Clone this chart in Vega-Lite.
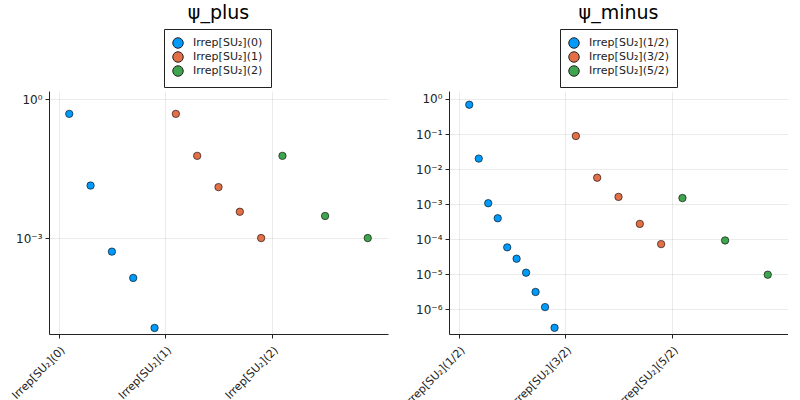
{
  "$schema": "https://vega.github.io/schema/vega-lite/v6.json",
  "padding": {"left": 9, "top": 3, "right": 0, "bottom": 0},
  "background": "white",
  "datasets": {
    "points": [
      {"panel": "plus", "sector": "Irrep[SU₂](0)", "x": 0.1, "y": 0.48},
      {"panel": "plus", "sector": "Irrep[SU₂](0)", "x": 0.3, "y": 0.0136},
      {"panel": "plus", "sector": "Irrep[SU₂](0)", "x": 0.5, "y": 0.00051},
      {"panel": "plus", "sector": "Irrep[SU₂](0)", "x": 0.7, "y": 0.000138},
      {"panel": "plus", "sector": "Irrep[SU₂](0)", "x": 0.9, "y": 0.0000115},
      {"panel": "plus", "sector": "Irrep[SU₂](1)", "x": 1.1, "y": 0.48},
      {"panel": "plus", "sector": "Irrep[SU₂](1)", "x": 1.3, "y": 0.0596},
      {"panel": "plus", "sector": "Irrep[SU₂](1)", "x": 1.5, "y": 0.0126},
      {"panel": "plus", "sector": "Irrep[SU₂](1)", "x": 1.7, "y": 0.0037},
      {"panel": "plus", "sector": "Irrep[SU₂](1)", "x": 1.9, "y": 0.001},
      {"panel": "plus", "sector": "Irrep[SU₂](2)", "x": 2.1, "y": 0.0596},
      {"panel": "plus", "sector": "Irrep[SU₂](2)", "x": 2.5, "y": 0.003},
      {"panel": "plus", "sector": "Irrep[SU₂](2)", "x": 2.9, "y": 0.001},
      {"panel": "minus", "sector": "Irrep[SU₂](1/2)", "x": 0.1, "y": 0.687},
      {"panel": "minus", "sector": "Irrep[SU₂](1/2)", "x": 0.189, "y": 0.02},
      {"panel": "minus", "sector": "Irrep[SU₂](1/2)", "x": 0.278, "y": 0.00107},
      {"panel": "minus", "sector": "Irrep[SU₂](1/2)", "x": 0.367, "y": 0.000398},
      {"panel": "minus", "sector": "Irrep[SU₂](1/2)", "x": 0.456, "y": 0.000059},
      {"panel": "minus", "sector": "Irrep[SU₂](1/2)", "x": 0.544, "y": 0.000028},
      {"panel": "minus", "sector": "Irrep[SU₂](1/2)", "x": 0.633, "y": 0.0000112},
      {"panel": "minus", "sector": "Irrep[SU₂](1/2)", "x": 0.722, "y": 0.00000316},
      {"panel": "minus", "sector": "Irrep[SU₂](1/2)", "x": 0.811, "y": 0.00000117},
      {"panel": "minus", "sector": "Irrep[SU₂](1/2)", "x": 0.9, "y": 0.0000003},
      {"panel": "minus", "sector": "Irrep[SU₂](3/2)", "x": 1.1, "y": 0.088},
      {"panel": "minus", "sector": "Irrep[SU₂](3/2)", "x": 1.3, "y": 0.0057},
      {"panel": "minus", "sector": "Irrep[SU₂](3/2)", "x": 1.5, "y": 0.00162},
      {"panel": "minus", "sector": "Irrep[SU₂](3/2)", "x": 1.7, "y": 0.000275},
      {"panel": "minus", "sector": "Irrep[SU₂](3/2)", "x": 1.9, "y": 0.000073},
      {"panel": "minus", "sector": "Irrep[SU₂](5/2)", "x": 2.1, "y": 0.0015},
      {"panel": "minus", "sector": "Irrep[SU₂](5/2)", "x": 2.5, "y": 0.000093},
      {"panel": "minus", "sector": "Irrep[SU₂](5/2)", "x": 2.9, "y": 0.0000098}
    ]
  },
  "hconcat": [
    {
      "title": {"text": "ψ_plus"},
      "width": 339,
      "height": 243,
      "data": {"name": "points"},
      "transform": [{"filter": "datum.panel == 'plus'"}],
      "mark": {"type": "point", "filled": true, "size": 55, "stroke": "black", "strokeWidth": 0.6, "opacity": 1},
      "encoding": {
        "x": {
          "field": "x", "type": "quantitative", "title": null,
          "scale": {"domain": [-0.09, 3.09], "nice": false, "zero": false},
          "axis": {"values": [0, 1, 2], "labelExpr": "['Irrep[SU₂](0)', 'Irrep[SU₂](1)', 'Irrep[SU₂](2)'][datum.value]"}
        },
        "y": {
          "field": "y", "type": "quantitative", "title": null,
          "scale": {"type": "log", "domain": [0.0000085, 1.496], "nice": false},
          "axis": {"values": [1, 0.001], "labelExpr": "'10' + (datum.value < 0.5 ? '⁻' : '') + ['⁰','¹','²','³','⁴','⁵','⁶','⁷'][abs(round(log(datum.value) / LN10))]"}
        },
        "color": {
          "field": "sector", "type": "nominal",
          "scale": {"domain": ["Irrep[SU₂](0)", "Irrep[SU₂](1)", "Irrep[SU₂](2)"], "range": ["#009AFA", "#E36F47", "#3EA44E"]},
          "legend": {"legendX": 115, "legendY": -62}
        }
      }
    },
    {
      "title": {"text": "ψ_minus"},
      "width": 339,
      "height": 243,
      "data": {"name": "points"},
      "transform": [{"filter": "datum.panel == 'minus'"}],
      "mark": {"type": "point", "filled": true, "size": 55, "stroke": "black", "strokeWidth": 0.6, "opacity": 1},
      "encoding": {
        "x": {
          "field": "x", "type": "quantitative", "title": null,
          "scale": {"domain": [-0.09, 3.09], "nice": false, "zero": false},
          "axis": {"values": [0, 1, 2], "labelExpr": "['Irrep[SU₂](1/2)', 'Irrep[SU₂](3/2)', 'Irrep[SU₂](5/2)'][datum.value]"}
        },
        "y": {
          "field": "y", "type": "quantitative", "title": null,
          "scale": {"type": "log", "domain": [0.0000002, 1.69], "nice": false},
          "axis": {"values": [1, 0.1, 0.01, 0.001, 0.0001, 0.00001, 0.000001], "labelExpr": "'10' + (datum.value < 0.5 ? '⁻' : '') + ['⁰','¹','²','³','⁴','⁵','⁶','⁷'][abs(round(log(datum.value) / LN10))]"}
        },
        "color": {
          "field": "sector", "type": "nominal",
          "scale": {"domain": ["Irrep[SU₂](1/2)", "Irrep[SU₂](3/2)", "Irrep[SU₂](5/2)"], "range": ["#009AFA", "#E36F47", "#3EA44E"]},
          "legend": {"legendX": 111, "legendY": -62}
        }
      }
    }
  ],
  "spacing": 61,
  "bounds": "flush",
  "resolve": {"scale": {"color": "independent", "y": "independent", "x": "independent"}},
  "config": {
    "font": "DejaVu Sans",
    "view": {"stroke": null},
    "title": {"fontSize": 19, "fontWeight": "normal", "color": "black", "anchor": "middle", "offset": 6},
    "axis": {
      "domainColor": "#222222", "domainWidth": 1,
      "tickColor": "#222222", "tickSize": 4,
      "gridColor": "#000000", "gridOpacity": 0.08,
      "labelColor": "#222222", "labelFontSize": 11, "labelPadding": 3
    },
    "axisX": {"labelAngle": -45, "labelAlign": "right", "labelBaseline": "top", "labelPadding": 6, "labelBound": false, "labelOverlap": false},
    "axisY": {"labelFontSize": 12},
    "legend": {
      "orient": "none", "title": null, "direction": "vertical",
      "strokeColor": "#222222", "fillColor": "white", "padding": 8,
      "symbolType": "circle", "symbolSize": 110, "symbolStrokeColor": "#222222", "symbolStrokeWidth": 1,
      "labelFontSize": 11, "labelColor": "#222222", "rowPadding": -4, "labelOffset": 9
    }
  }
}
